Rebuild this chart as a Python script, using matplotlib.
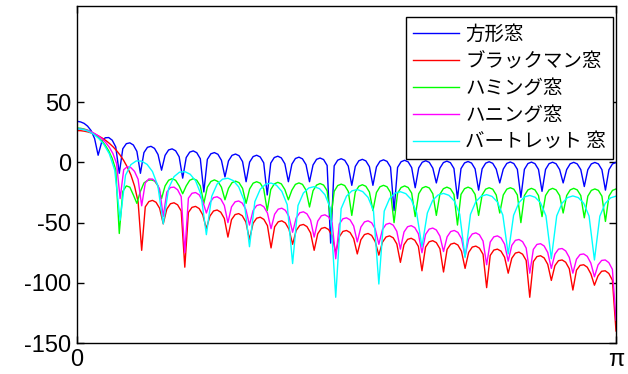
import numpy as np
import matplotlib
matplotlib.use('Agg')
import matplotlib.pyplot as plt

# legend labels and line colours
labels = ['方形窓', 'ブラックマン窓', 'ハミング窓', 'ハニング窓', 'バートレット 窓']
colors = ['#0000ff', '#ff0000', '#00ff00', '#ff00ff', '#00ffff']

rect_db = [
    34.2, 33.7, 32.5, 30.2, 26.5, 19.8,
    6.0, 16.9, 20.5, 20.7, 18.5, 12.9,
    -9.0, 11.4, 15.6, 16.3, 14.5, 9.2,
    -9.0, 8.2, 12.6, 13.4, 11.7, 6.6,
    -6.4, 5.9, 10.4, 11.3, 9.7, 4.7,
    -13.0, 4.1, 8.6, 9.6, 8.1, 3.1,
    -24.5, 2.6, 7.2, 8.2, 6.8, 1.8,
    -12.0, 1.3, 5.9, 7.0, 5.6, 0.7,
    -16.0, 0.3, 4.9, 6.0, 4.6, -0.3,
    -27.0, -0.5, 4.1, 5.2, 3.8, -1.1,
    -16.0, -1.4, 3.3, 4.4, 3.0, -1.8,
    -16.0, -2.1, 2.6, 3.7, 2.4, -2.5,
    -67.0, -2.8, 1.9, 3.1, 1.8, -3.0,
    -19.0, -3.3, 1.4, 2.6, 1.3, -3.5,
    -19.0, -3.7, 1.0, 2.2, 0.9, -3.9,
    -40.0, -4.1, 0.6, 1.8, 0.5, -4.3,
    -21.0, -4.5, 0.2, 1.4, 0.1, -4.7,
    -17.0, -4.8, -0.1, 1.1, -0.2, -5.0,
    -30.0, -5.1, -0.4, 0.8, -0.5, -5.3,
    -23.0, -5.3, -0.6, 0.6, -0.7, -5.5,
    -17.0, -5.5, -0.8, 0.4, -0.9, -5.7,
    -29.0, -5.7, -0.9, 0.3, -1.0, -5.8,
    -24.0, -5.8, -1.0, 0.2, -1.1, -5.9,
    -17.0, -5.9, -1.1, 0.1, -1.2, -5.9,
    -20.0, -6.0, -1.2, 0.0, -1.2, -6.0,
    -23.0, -6.0, -1.2, 0.0,
]

blackman_db = [
    26.5, 26.4, 26.0, 25.4, 24.5, 23.4, 22.0, 20.3, 18.3,
    15.9, 13.1, 9.9, 6.1, 1.6, -3.8, -10.4, -19.5, -32.5,
    -73.0, -36.9, -32.5, -31.5, -33.1, -38.1,
    -51.0, -38.7, -34.3, -33.5, -35.2, -40.3,
    -87.0, -41.5, -37.3, -36.5, -38.3, -43.5,
    -55.0, -44.5, -40.3, -39.5, -41.3, -46.5,
    -62.0, -47.5, -43.3, -42.5, -44.3, -49.5,
    -64.0, -50.5, -46.3, -45.5, -47.3, -52.5,
    -71.0, -53.5, -49.3, -48.5, -50.3, -55.5,
    -68.0, -56.5, -52.3, -51.5, -53.3, -58.5,
    -73.0, -59.2, -54.8, -54.0, -55.7, -60.8,
    -75.0, -61.7, -57.3, -56.5, -58.2, -63.3,
    -76.0, -64.2, -59.9, -59.0, -60.6, -65.8,
    -77.0, -66.3, -61.9, -61.0, -62.6, -67.7,
    -83.0, -68.3, -63.9, -63.0, -64.6, -69.7,
    -90.0, -70.3, -65.9, -65.0, -66.6, -71.7,
    -91.0, -72.2, -67.9, -67.0, -68.6, -73.8,
    -88.0, -74.7, -70.3, -69.5, -71.2, -76.3,
    -104.0, -77.2, -72.8, -72.0, -73.7, -78.8,
    -92.0, -79.6, -75.3, -74.5, -76.2, -81.4,
    -112.0, -82.4, -78.2, -77.5, -79.3, -84.6,
    -98.0, -85.7, -81.6, -81.0, -82.9, -88.3,
    -106.0, -89.5, -85.5, -85.0, -87.0, -92.5,
    -102.0, -94.2, -90.4, -90.0, -92.2, -97.8,
    -140.0,
]

hamming_db = [
    28.6, 28.4, 27.8, 26.9, 25.4, 23.6, 21.2, 18.2, 14.4, 9.7, 3.4, -6.1,
    -59.0, -24.0, -19.5, -20.5, -27.0, -34.0,
    -24.0, -17.0, -15.0, -14.5, -15.3, -19.5,
    -30.0, -19.5, -14.8, -13.5, -14.8, -19.5,
    -26.0, -19.5, -14.8, -13.5, -14.8, -19.5,
    -34.0, -20.5, -15.8, -14.5, -15.8, -20.5,
    -31.0, -21.5, -16.8, -15.5, -16.8, -21.5,
    -34.0, -22.0, -17.2, -16.0, -17.2, -22.0,
    -40.0, -22.5, -17.8, -16.5, -17.8, -22.5,
    -31.0, -23.0, -18.2, -17.0, -18.2, -23.0,
    -37.0, -23.5, -18.8, -17.5, -18.8, -23.5,
    -48.0, -24.0, -19.2, -18.0, -19.2, -24.0,
    -44.0, -24.5, -19.8, -18.5, -19.8, -24.5,
    -40.0, -25.0, -20.2, -19.0, -20.2, -25.0,
    -50.0, -25.5, -20.8, -19.5, -20.8, -25.5,
    -45.0, -26.0, -21.2, -20.0, -21.2, -26.0,
    -44.0, -26.5, -21.8, -20.5, -21.8, -26.5,
    -52.0, -26.5, -21.8, -20.5, -21.8, -26.5,
    -44.0, -27.0, -22.2, -21.0, -22.2, -27.0,
    -42.0, -27.0, -22.2, -21.0, -22.2, -27.0,
    -50.0, -27.5, -22.8, -21.5, -22.8, -27.5,
    -45.0, -27.5, -22.8, -21.5, -22.8, -27.5,
    -42.0, -27.5, -22.8, -21.5, -22.8, -27.5,
    -46.0, -28.0, -23.2, -22.0, -23.2, -28.0,
    -49.0, -28.0, -23.2, -22.0,
]

hanning_db = [
    28.0, 27.8, 27.4, 26.6, 25.4, 23.9, 22.0, 19.5, 16.5, 12.6, 7.4, -0.7,
    -30.0, -6.0, -3.5, -4.3, -7.4, -13.9,
    -36.0, -17.0, -13.7, -13.8, -16.3, -22.2,
    -45.0, -24.6, -20.8, -20.5, -22.7, -28.4,
    -75.0, -29.7, -25.6, -25.0, -26.9, -32.3,
    -42.0, -33.3, -29.2, -28.5, -30.3, -35.7,
    -50.0, -36.9, -32.7, -32.0, -33.8, -39.1,
    -52.0, -40.0, -35.8, -35.0, -36.8, -42.0,
    -55.0, -43.0, -38.8, -38.0, -39.8, -45.0,
    -58.0, -46.1, -41.8, -41.0, -42.7, -47.9,
    -62.0, -48.7, -44.3, -43.5, -45.2, -50.3,
    -80.0, -51.2, -46.8, -46.0, -47.7, -52.8,
    -66.0, -53.7, -49.4, -48.5, -50.1, -55.3,
    -68.0, -55.8, -51.4, -50.5, -52.1, -57.2,
    -72.0, -57.8, -53.4, -52.5, -54.1, -59.2,
    -75.0, -59.8, -55.4, -54.5, -56.1, -61.2,
    -74.0, -61.8, -57.4, -56.5, -58.1, -63.2,
    -78.0, -63.7, -59.4, -58.5, -60.1, -65.3,
    -85.0, -66.1, -61.8, -61.0, -62.7, -67.9,
    -82.0, -68.9, -64.7, -64.0, -65.8, -71.1,
    -92.0, -72.2, -68.1, -67.5, -69.4, -74.8,
    -88.0, -76.1, -72.0, -71.5, -73.5, -78.9,
    -92.0, -80.4, -76.5, -76.0, -78.0, -83.6,
    -95.0, -85.2, -81.4, -81.0, -83.2, -88.8,
    -131.0,
]

bartlett_db = [
    28.0, 27.5, 26.1, 23.7, 20.1, 14.9, 7.1, -6.3,
    -48.0, -10.6, -1.8, 1.3, 1.1, -1.6, -7.5, -19.4,
    -51.0, -21.5, -11.8, -8.1, -7.6, -9.8, -15.2, -26.6,
    -60.0, -28.1, -17.9, -13.9, -13.1, -15.1, -20.3, -31.5,
    -70.0, -32.5, -22.2, -18.1, -17.1, -18.9, -24.0, -35.1,
    -84.0, -35.8, -25.4, -21.2, -20.1, -21.8, -26.8, -37.8,
    -112.0, -38.4, -28.0, -23.6, -22.5, -24.2, -29.0, -40.0,
    -101.0, -40.4, -29.9, -25.5, -24.3, -25.9, -30.7, -41.6,
    -70.0, -42.0, -31.4, -27.0, -25.7, -27.3, -32.0, -42.9,
    -79.0, -43.1, -32.5, -28.0, -26.7, -28.2, -32.9, -43.7,
    -76.0, -43.9, -33.3, -28.7, -27.4, -28.9, -33.5, -44.3,
    -80.0, -44.4, -33.8, -29.2, -27.8, -29.2, -33.8, -44.5,
    -81.0, -44.7, -34.0, -29.4, -28.0,
]

series = [rect_db, blackman_db, hamming_db, hanning_db, bartlett_db]

plt.rcParams['font.family'] = ['Liberation Sans', 'DejaVu Sans']
plt.rcParams['axes.unicode_minus'] = False

fig = plt.figure(figsize=(6.28, 3.74), dpi=100)
ax = fig.add_axes([77 / 628, 31 / 374, 539 / 628, 337 / 374])

for db, c, lab in zip(series, colors, labels):
    w = np.linspace(0, np.pi, len(db))
    ax.plot(w, db, color=c, lw=1.0, label=lab)

ax.set_xlim(0, np.pi)
ax.set_ylim(-150, 130)
ax.set_xticks([0, np.pi])
ax.set_xticklabels(['0', 'π'])
ax.set_yticks([-150, -100, -50, 0, 50])
ax.tick_params(direction='in', length=5, width=1, right=True, top=True,
               labelsize=17, colors='black', pad=4)
for s in ax.spines.values():
    s.set_linewidth(1.0)
    s.set_color('black')

leg = ax.legend(loc='upper right', bbox_to_anchor=(0.9944, 0.966),
                borderaxespad=0, fancybox=False, framealpha=1,
                edgecolor='black', handlelength=2.4, handletextpad=0.3,
                labelspacing=0.3, borderpad=0.35,
                prop={'family': ['Noto Sans CJK JP', 'DejaVu Sans'], 'size': 14})
leg.get_frame().set_linewidth(1.0)

fig.savefig('out.png', dpi=100)
